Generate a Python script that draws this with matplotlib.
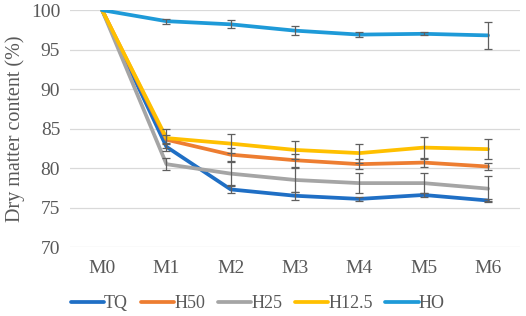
#!/usr/bin/env python3

"""Dry matter content over storage months, five treatments."""

import matplotlib as mpl

mpl.use("Agg")
import matplotlib.pyplot as plt

plt.rcParams["font.family"] = ["Liberation Serif", "DejaVu Serif"]

months = ["M0", "M1", "M2", "M3", "M4", "M5", "M6"]

series_names = ["TQ", "H50", "H25", "H12.5", "HO"]
tq = [100, 82.7, 77.3, 76.5, 76.1, 76.6, 75.9]
h50 = [100, 83.6, 81.7, 81.0, 80.5, 80.7, 80.2]
h25 = [100, 80.5, 79.3, 78.5, 78.1, 78.1, 77.4]
h125 = [100, 83.8, 83.1, 82.3, 81.9, 82.6, 82.4]
ho = [100, 98.6, 98.2, 97.4, 96.9, 97.0, 96.8]

tq_err = [0, 0.5, 0.4, 0.5, 0.2, 0.2, 0.2]
h50_err = [0, 0.6, 0.8, 0.8, 0.6, 0.5, 0.5]
h25_err = [0, 0.8, 1.5, 1.5, 1.3, 1.3, 1.6]
h125_err = [0, 1.2, 1.2, 1.1, 1.2, 1.3, 1.3]
ho_err = [0, 0.3, 0.5, 0.6, 0.3, 0.2, 1.7]

colors = ["#1F6FC5", "#ED7D31", "#A5A5A5", "#FFC000", "#1E9AD8"]


def main():
    fig = plt.figure(figsize=(5.26, 3.16), dpi=100)
    ax = fig.add_axes([0.133, 0.218, 0.856, 0.750])

    x = list(range(len(months)))
    data = [tq, h50, h25, h125, ho]
    errs = [tq_err, h50_err, h25_err, h125_err, ho_err]

    for i, (name, y, e, c) in enumerate(zip(series_names, data, errs, colors)):
        ax.plot(x, y, color=c, lw=2.7, label=name, zorder=3 + i,
                solid_capstyle="round")
        ax.errorbar(x[1:], y[1:], yerr=e[1:], fmt="none", ecolor="#5f5f5f",
                    elinewidth=0.9, capsize=2.8, capthick=0.9, zorder=10)

    ax.set_xlim(-0.5, len(months) - 0.5)
    ax.set_ylim(70, 100)
    ax.set_yticks(range(70, 101, 5))
    ax.set_xticks(x)
    ax.set_xticklabels(months)
    ax.grid(axis="y", color="#D9D9D9", lw=0.9, zorder=0)
    ax.set_axisbelow(True)
    for s in ax.spines.values():
        s.set_visible(False)
    ax.tick_params(length=0, labelsize=14, colors="#595959", pad=9)
    ax.tick_params(axis="y", pad=7)
    ax.set_ylabel("Dry matter content (%)", fontsize=14.5, color="#595959",
                  labelpad=4)

    fig.legend(loc="lower center", bbox_to_anchor=(0.49, -0.04), ncol=5,
               frameon=False, fontsize=13, handlelength=1.85,
               handletextpad=0.0, columnspacing=0.7,
               labelcolor="#595959")

    fig.savefig("out.png", dpi=100)


if __name__ == "__main__":
    main()
